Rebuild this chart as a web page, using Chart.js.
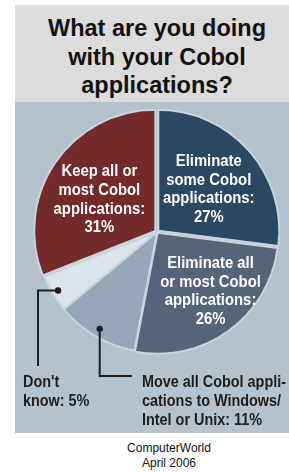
<!DOCTYPE html>
<html>
<head>
<meta charset="utf-8">
<script src="https://cdn.jsdelivr.net/npm/chart.js@4.4.1/dist/chart.umd.min.js"></script>
<style>
  html, body { margin: 0; padding: 0; background: #fff; }
  body { width: 289px; height: 472px; position: relative; overflow: hidden; font-family: "Liberation Sans", Arial, sans-serif; }
  .titlebox { position: absolute; left: 15px; top: 5px; width: 274px; height: 97px; background: #dcdcdc; }
  .panel { position: absolute; left: 15px; top: 102px; width: 274px; height: 331px; background: #b3c2cc; }
  .title { position: absolute; left: 0; width: 314px; top: 14px; text-align: center; font-weight: bold; font-size: 23.5px; line-height: 28.5px; color: #111; }
  .source { position: absolute; left: 0; width: 338px; top: 441px; text-align: center; font-size: 12px; line-height: 15px; color: #111; }
  canvas { position: absolute; left: 0; top: 0; }
</style>
</head>
<body>
<div class="titlebox"></div>
<div class="panel"></div>
<div class="title">What are you doing<br>with your Cobol<br>applications?</div>
<div class="source">ComputerWorld<br>April 2006</div>
<canvas id="pie" width="289" height="472"></canvas>
<script>
// answers, clockwise from 12 o'clock
const categories = [
  'Eliminate some Cobol applications',
  'Eliminate all or most Cobol applications',
  'Move all Cobol applications to Windows/Intel or Unix',
  "Don't know",
  'Keep all or most Cobol applications'
];
const shares = [27, 26, 11, 5, 31];
const labelLines = [
  ['Eliminate', 'some Cobol', 'applications:'],
  ['Eliminate all', 'or most Cobol', 'applications:'],
  ['Move all Cobol appli-', 'cations to Windows/', 'Intel or Unix:'],
  ["Don't", 'know:'],
  ['Keep all or', 'most Cobol', 'applications:']
];

const sliceColors = ['#2a4862', '#56647a', '#96a8b7', '#dce4ea', '#732a2a'];
const sliceOffsets = [7, 4, 0, 0, 8];

// label placement: inside = polar from slice middle, callout = elbow line to text
const labelStyle = [
  { inside: true, r: 67, dAngle: 2 },
  { inside: true, r: 80, dAngle: -6 },
  { inside: false, dotR: 0.93, elbow: 'down', bendY: 376, endX: 132, textX: 142, textY: 383 },
  { inside: false, dotR: 0.95, elbow: 'left', bendX: 38, endY: 366, textX: 23, textY: 383 },
  { inside: true, r: 66, dAngle: -5 }
];

// fake a condensed face by squeezing horizontally
const squeeze = 0.9;
const insideFont = 'bold 16.5px "Liberation Sans", Arial, sans-serif';
const calloutFont = 'bold 16px "Liberation Sans", Arial, sans-serif';

function squeezedText(ctx, text, x, y) {
  ctx.save();
  ctx.translate(x, y);
  ctx.scale(squeeze, 1);
  ctx.fillText(text, 0, 0);
  ctx.restore();
}

const labelPlugin = {
  id: 'sliceLabels',
  afterDatasetsDraw(chart) {
    const ctx = chart.ctx;
    const arcs = chart.getDatasetMeta(0).data;
    const lh = 18.7;
    ctx.save();
    ctx.textBaseline = 'middle';
    arcs.forEach((arc, i) => {
      const st = labelStyle[i];
      const mid = (arc.startAngle + arc.endAngle) / 2;
      const pct = shares[i] + '%';
      if (st.inside) {
        const a = mid + st.dAngle * Math.PI / 180;
        const cx = arc.x + Math.cos(a) * st.r;
        const cy = arc.y + Math.sin(a) * st.r;
        const lines = labelLines[i].concat([pct]);
        ctx.font = insideFont;
        ctx.fillStyle = '#ffffff';
        ctx.textAlign = 'center';
        const y0 = cy - (lines.length - 1) * lh / 2;
        lines.forEach((t, k) => squeezedText(ctx, t, cx, y0 + k * lh));
      } else {
        const dx = arc.x + Math.cos(mid) * arc.outerRadius * st.dotR;
        const dy = arc.y + Math.sin(mid) * arc.outerRadius * st.dotR;
        ctx.strokeStyle = '#1e1e1e';
        ctx.lineWidth = 2;
        ctx.beginPath();
        ctx.moveTo(dx, dy);
        if (st.elbow === 'down') {
          ctx.lineTo(dx, st.bendY);
          ctx.lineTo(st.endX, st.bendY);
        } else {
          ctx.lineTo(st.bendX, dy);
          ctx.lineTo(st.bendX, st.endY);
        }
        ctx.stroke();
        ctx.fillStyle = '#1e1e1e';
        ctx.beginPath();
        ctx.arc(dx, dy, 3.2, 0, Math.PI * 2);
        ctx.fill();
        const lines = labelLines[i].slice();
        lines[lines.length - 1] += ' ' + pct;
        ctx.font = calloutFont;
        ctx.textAlign = 'left';
        lines.forEach((t, k) => squeezedText(ctx, t, st.textX, st.textY + k * lh));
      }
    });
    ctx.restore();
  }
};

new Chart(document.getElementById('pie'), {
  type: 'pie',
  data: {
    labels: categories,
    datasets: [{
      data: shares,
      backgroundColor: sliceColors,
      borderColor: '#c9d4db',
      borderWidth: 2,
      offset: sliceOffsets,
      clip: false
    }]
  },
  options: {
    responsive: false,
    animation: false,
    radius: 121,
    layout: { padding: { left: 25, right: 0, top: 100, bottom: 108 } },
    plugins: {
      legend: { display: false },
      tooltip: { enabled: false },
      title: { display: false }
    }
  },
  plugins: [labelPlugin]
});
</script>
</body>
</html>
